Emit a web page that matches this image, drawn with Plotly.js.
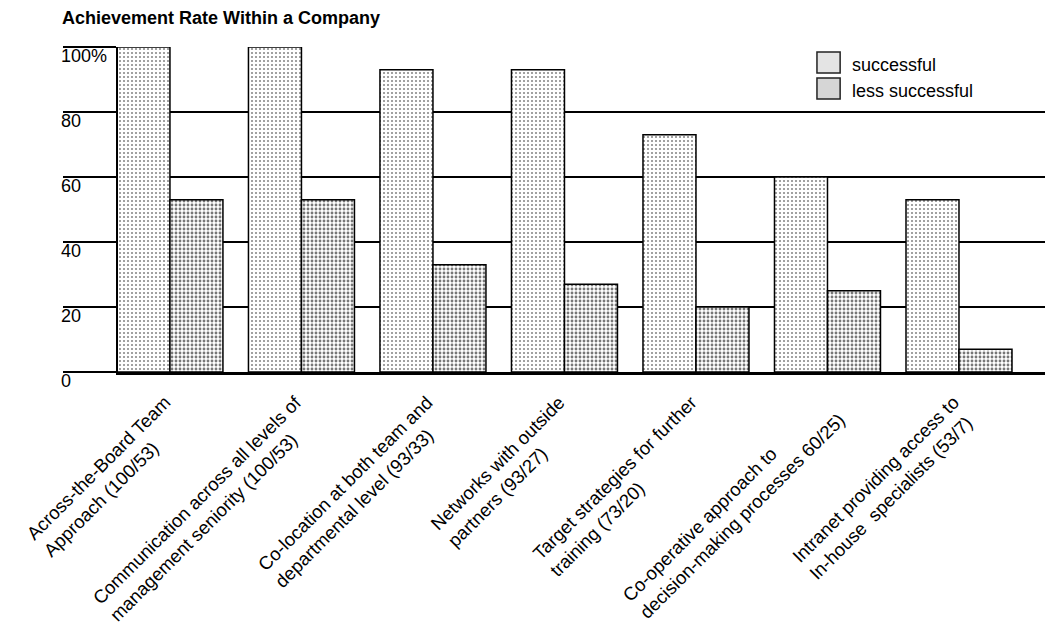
<!DOCTYPE html>
<html>
<head>
<meta charset="utf-8">
<script src="https://cdn.plot.ly/plotly-3.0.1.min.js"></script>
<style>
  html, body { margin: 0; padding: 0; background: #fff; }
  #chart { width: 1045px; height: 634px; }
</style>
</head>
<body>
<div id="chart"></div>
<script>
// Category labels (two lines each)
const categories = [
  'Across-the-Board Team<br>Approach (100/53)',
  'Communication across all levels of<br>management seniority (100/53)',
  'Co-location at both team and<br>departmental level (93/33)',
  'Networks with outside<br>partners (93/27)',
  'Target strategies for further<br>training (73/20)',
  'Co-operative approach to<br>decision-making processes 60/25)',
  'Intranet providing access to<br>In-house\u00a0 specialists (53/7)'
];

// Achievement rates in percent
const successful = [100, 100, 93, 93, 73, 60, 53];
const lessSuccessful = [53, 53, 33, 27, 20, 25, 7];

const seriesNames = ['successful', 'less successful'];

// Value axis ticks
const yTickVals = [0, 20, 40, 60, 80, 100];
const yTickText = ['0', '20', '40', '60', '80', '100%'];

const FONT = 'Liberation Sans, Arial, sans-serif';

const barLine = { color: '#000', width: 1.5 };

const traces = [
  {
    type: 'bar',
    name: seriesNames[0],
    x: categories,
    y: successful,
    marker: {
      color: '#ffffff',
      line: barLine,
      pattern: { shape: '.', fgcolor: '#8a8a8a', bgcolor: '#ffffff', size: 4, solidity: 0.22 }
    },
    hoverinfo: 'y'
  },
  {
    type: 'bar',
    name: seriesNames[1],
    x: categories,
    y: lessSuccessful,
    marker: {
      color: '#ffffff',
      line: barLine,
      pattern: { shape: '.', fgcolor: '#777777', bgcolor: '#ffffff', size: 4, solidity: 0.4 }
    },
    hoverinfo: 'y'
  }
];

const annotations = [];

// y tick labels, left aligned, sitting just under each grid line
yTickVals.forEach((v, i) => {
  annotations.push({
    xref: 'paper', yref: 'y',
    x: -0.0637, y: v,
    xanchor: 'left', yanchor: 'middle',
    yshift: -9,
    text: yTickText[i],
    showarrow: false,
    font: { family: FONT, size: 18, color: '#000' }
  });
});

// rotated category labels, lines left aligned
categories.forEach((c) => {
  annotations.push({
    xref: 'x', yref: 'paper',
    x: c, y: 0,
    xanchor: 'right', yanchor: 'top',
    xshift: 24, yshift: -17,
    text: c,
    textangle: -45,
    align: 'left',
    showarrow: false,
    font: { family: FONT, size: 18.5, color: '#000' }
  });
});

// legend entries
const legendX = 0.754, legendW = 0.025;
const legendRows = [0.985, 0.905];
const swatchH = 0.065;
const swatchFill = ['#e4e4e4', '#d6d6d6'];
const shapes = [];
seriesNames.forEach((n, i) => {
  shapes.push({
    type: 'rect', xref: 'paper', yref: 'paper', layer: 'above',
    x0: legendX, x1: legendX + legendW,
    y0: legendRows[i] - swatchH, y1: legendRows[i],
    fillcolor: swatchFill[i],
    line: { color: '#222', width: 1.5 }
  });
  annotations.push({
    xref: 'paper', yref: 'paper',
    x: legendX + legendW + 0.011, y: legendRows[i] - swatchH / 2 - 0.008,
    xanchor: 'left', yanchor: 'middle',
    text: n, showarrow: false,
    font: { family: FONT, size: 18, color: '#000' }
  });
});

const layout = {
  width: 1045,
  height: 634,
  margin: { l: 118, r: 0, t: 47, b: 262 },
  paper_bgcolor: '#ffffff',
  plot_bgcolor: '#ffffff',
  showlegend: false,
  barmode: 'group',
  bargap: 0.194,
  bargroupgap: 0,
  title: {
    text: 'Achievement Rate Within a Company',
    x: 62 / 1045, xanchor: 'left', xref: 'container',
    y: 1 - 18 / 634, yanchor: 'middle', yref: 'container',
    font: { family: FONT, size: 18, weight: 'bold', color: '#000' }
  },
  xaxis: {
    type: 'category',
    range: [-0.395, 6.654],
    showticklabels: false,
    ticks: '',
    showgrid: false,
    zeroline: false,
    showline: true,
    linecolor: '#000',
    linewidth: 2.5
  },
  yaxis: {
    range: [0, 100],
    tickvals: yTickVals,
    showticklabels: false,
    ticks: 'outside',
    ticklen: 53,
    tickwidth: 2,
    tickcolor: '#000',
    showgrid: true,
    gridcolor: '#000',
    gridwidth: 2,
    zeroline: false,
    showline: true,
    linecolor: '#000',
    linewidth: 2
  },
  annotations: annotations,
  shapes: shapes,
  font: { family: FONT, color: '#000' }
};

Plotly.newPlot('chart', traces, layout, { staticPlot: true, displayModeBar: false });
</script>
</body>
</html>
